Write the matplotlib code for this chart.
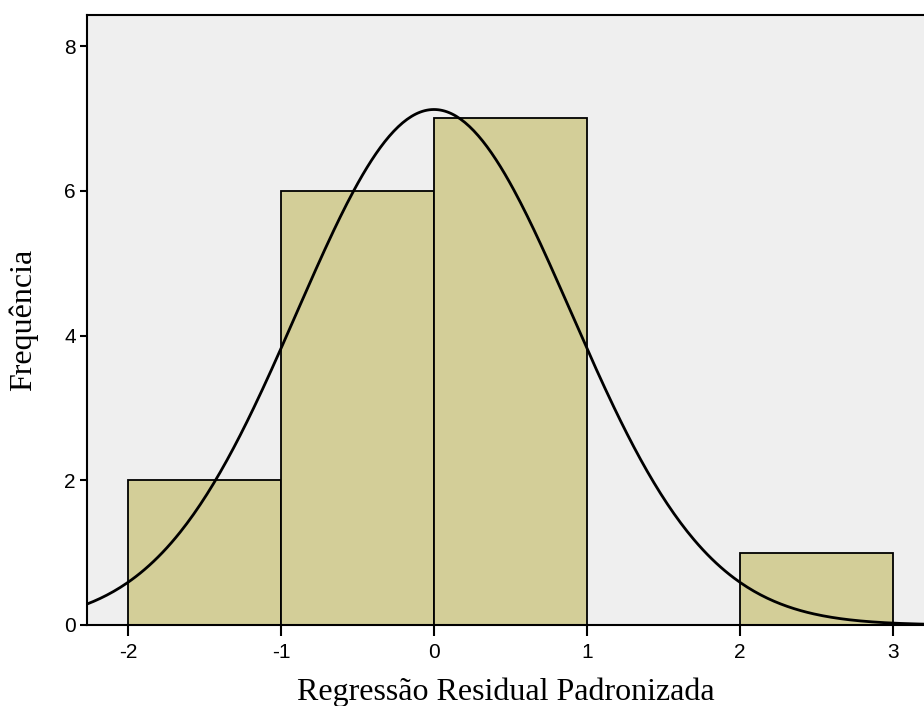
import numpy as np
import matplotlib
matplotlib.use('Agg')
import matplotlib.pyplot as plt

# histogram data
bin_edges = [-2, -1, 0, 1, 2, 3]
counts = [2, 6, 7, 0, 1]

# normal curve fitted to the residuals
curve_mean = 0.0
curve_std = 0.896
n_obs = sum(counts)

x_ticks = [-2, -1, 0, 1, 2, 3]
y_ticks = [0, 2, 4, 6, 8]

bar_color = '#d3ce98'
bg_color = '#efefef'

plt.rcParams['axes.unicode_minus'] = False

fig = plt.figure(figsize=(9.24, 7.06), dpi=100)
ax = fig.add_axes([87/924, 81/706, 837/924, 610/706])
ax.set_facecolor(bg_color)

widths = np.diff(bin_edges)
ax.bar(bin_edges[:-1], counts, width=widths, align='edge',
       color=bar_color, edgecolor='black', linewidth=1.3, zorder=2)

xs = np.linspace(-2.4, 3.4, 400)
bw = widths[0]
ys = n_obs * bw / (curve_std * np.sqrt(2 * np.pi)) * np.exp(-0.5 * ((xs - curve_mean) / curve_std) ** 2)
ax.plot(xs, ys, color='black', linewidth=2, zorder=3)

ax.set_xlim(-2.268, 3.203)
ax.set_ylim(0, 8.43)
ax.set_xticks(x_ticks)
ax.set_yticks(y_ticks)
ax.spines['right'].set_visible(False)
for s in ['left', 'bottom', 'top']:
    ax.spines[s].set_linewidth(1.5)
ax.tick_params(axis='both', direction='out', width=1.5, labelsize=15,
               colors='black')
ax.tick_params(axis='x', length=8, pad=5)
ax.tick_params(axis='y', length=5, pad=3)
for lab in ax.get_xticklabels() + ax.get_yticklabels():
    lab.set_family('Liberation Sans')

ax.set_xlabel('Regressão Residual Padronizada', family='Liberation Serif',
              fontsize=23, labelpad=11)
ax.set_ylabel('Frequência', family='Liberation Serif', fontsize=23,
              labelpad=19)

fig.savefig('out.png', dpi=100)
